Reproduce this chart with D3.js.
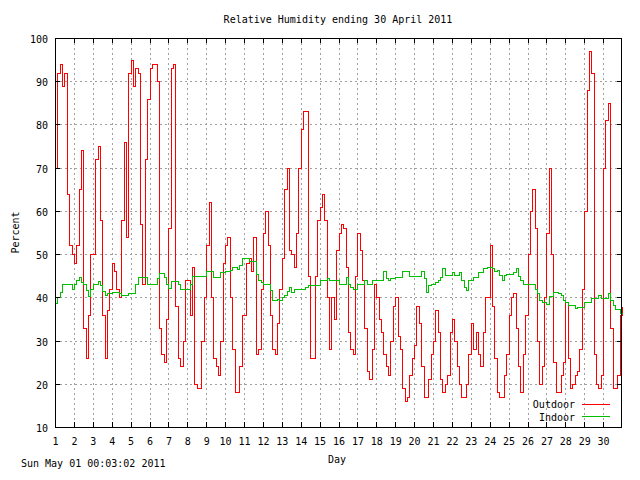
<!DOCTYPE html>
<html>
<head>
<meta charset="utf-8">
<script src="https://cdn.jsdelivr.net/npm/d3@7"></script>
<style>
body { margin: 0; background: #fff; }
svg text { font-family: "DejaVu Sans Mono", monospace; font-size: 10px; fill: #000; }
</style>
</head>
<body>
<svg id="chart" width="640" height="480"></svg>
<script>
const title = "Relative Humidity ending 30 April 2011";
const stamp = "Sun May 01 00:03:02 2011";
const dayLabels = d3.range(1, 31);
const yTicks = d3.range(10, 101, 10);
const samplesPerDay = 8; // readings every 3 hours

// outdoor humidity, one row per day (3-hourly), last value = 1 May 00:00
const outdoor = [
    70, 92, 94, 89, 92, 64, 52, 50,
    48, 52, 65, 74, 33, 26, 36, 50,
    50, 72, 75, 58, 36, 26, 37, 42,
    48, 46, 42, 40, 58, 76, 54, 92,
    95, 89, 93, 92, 57, 43, 72, 86,
    93, 94, 94, 90, 33, 27, 25, 35,
    56, 93, 94, 38, 26, 24, 30, 44,
    44, 36, 47, 20, 19, 19, 30, 40,
    52, 62, 40, 26, 24, 22, 30, 48,
    52, 54, 40, 28, 18, 18, 24, 36,
    36, 48, 49, 46, 54, 27, 28, 42,
    55, 60, 52, 36, 28, 27, 34, 42,
    49, 65, 70, 51, 50, 47, 55, 70,
    79, 83, 83, 45, 26, 26, 45, 58,
    61, 64, 58, 40, 28, 40, 35, 51,
    55, 57, 56, 47, 32, 28, 27, 45,
    55, 51, 44, 33, 23, 21, 28, 43,
    40, 35, 32, 27, 24, 22, 30, 38,
    40, 31, 28, 19, 16, 17, 22, 26,
    29, 38, 34, 24, 17, 17, 21, 27,
    30, 37, 32, 21, 18, 20, 22, 32,
    35, 30, 24, 20, 17, 17, 20, 27,
    34, 28, 32, 27, 24, 32, 40, 40,
    52, 38, 26, 18, 17, 17, 22, 27,
    36, 40, 41, 33, 24, 18, 27, 36,
    50, 60, 65, 56, 30, 20, 24, 40,
    55, 70, 50, 25, 18, 18, 22, 25,
    39, 26, 19, 20, 22, 23, 28, 42,
    60, 88, 97, 92, 27, 20, 19, 22,
    70, 81, 85, 33, 19, 19, 22, 36,
    38
];

const indoor = [
    38.8, 40, 41.3, 43, 43, 43, 43, 42,
    43, 44, 44.8, 43.5, 43, 41.7, 40.2, 42,
    43.2, 43.2, 43.8, 42.8, 41.5, 40.5, 40.9, 40.9,
    41.3, 41.3, 41.3, 41, 40.5, 40.5, 40.5, 41,
    41, 41, 43, 44.7, 44.7, 44.7, 44.7, 43,
    43, 43, 43, 44.5, 45.6, 45.6, 44.7, 43,
    42.2, 43.7, 43.7, 43.7, 43, 42, 42, 42,
    42, 43, 45, 45, 45, 45, 45, 45,
    46, 46, 46, 44.8, 44.8, 44.8, 45.9, 45.9,
    46, 46, 46.3, 47.1, 47.1, 46.5, 47.5, 49,
    49, 49, 48.3, 48.3, 48.3, 45.5, 44, 43.5,
    43.1, 43.1, 43.1, 41.7, 39.4, 39.4, 39.6, 39.4,
    40, 40.5, 41.5, 42.5, 41.3, 41.9, 41.9, 41.9,
    41.9, 41.9, 42.5, 42.9, 42.9, 42.9, 42.8, 42.9,
    44, 44, 44, 44.5, 44, 44, 44, 44,
    43.1, 43.1, 43.1, 44.8, 43.1, 42.3, 41.9, 41.9,
    43.1, 43.1, 43.1, 44, 43.1, 43.1, 44, 44,
    44, 44, 44, 46, 44.5, 44, 44.5, 44.5,
    44.8, 44.8, 44.8, 46.1, 46.1, 46.1, 45, 45,
    45, 45, 45, 46, 44.4, 41.3, 42.9, 43.2,
    43.2, 43.6, 44, 44.8, 46.7, 45.2, 45.2, 45.2,
    45.9, 45.2, 45.2, 45.9, 44, 42.5, 41.7, 44,
    44, 44.8, 44.8, 45.9, 45.9, 46.7, 46.7, 47.1,
    47.1, 46.9, 46.2, 46.3, 45.2, 44, 45.2, 45.5,
    45.5, 45.5, 45.9, 46.9, 45, 44, 43.1, 43.1,
    43.1, 43.1, 43.1, 42, 40.9, 39.4, 39, 39,
    38.5, 40.2, 40.2, 41.3, 41.3, 40.9, 40.5, 39.4,
    39, 38.2, 38.2, 38.2, 37.5, 37.8, 37.8, 37.8,
    39, 39, 39, 39.8, 39.8, 39.8, 40.5, 39.8,
    39.8, 39.8, 40.9, 39.4, 38.2, 37.2, 37.2, 36.3,
    36.3
];

const seriesNames = ["Outdoor", "Indoor"];
const seriesColors = ["#ff0000", "#00c000"];

const plot = { left: 55, right: 622, top: 38, bottom: 427 };
const svg = d3.select("#chart");

const x = d3.scaleLinear().domain([0, 30]).range([plot.left, plot.right]);
const y = d3.scaleLinear().domain([10, 100]).range([plot.bottom, plot.top]);
const times = d3.range(outdoor.length).map(i => i / samplesPerDay);
const dayPos = dayLabels.map(d => d - 1);
const px = v => Math.round(v) + 0.5; // snap to pixel centres like a bitmap plot

// grid
const grid = svg.append("g")
    .attr("stroke", "#a0a0a0")
    .attr("stroke-dasharray", "2,3")
    .attr("shape-rendering", "crispEdges");
grid.append("g").selectAll("line")
    .data(dayPos.slice(1))
    .join("line")
    .attr("x1", d => px(x(d))).attr("x2", d => px(x(d)))
    .attr("y1", plot.top).attr("y2", plot.bottom);
grid.append("g").selectAll("line")
    .data(yTicks.slice(1, -1))
    .join("line")
    .attr("x1", plot.left).attr("x2", plot.right)
    .attr("y1", d => px(y(d))).attr("y2", d => px(y(d)));

// data lines
const line = d3.line()
    .x((d, i) => px(x(times[i])))
    .y(d => px(y(d)))
    .curve(d3.curveStepAfter);
[outdoor, indoor].forEach((s, k) => {
    svg.append("path")
        .datum(s)
        .attr("d", line)
        .attr("fill", "none")
        .attr("stroke", seriesColors[k])
        .attr("stroke-width", 1)
        .attr("shape-rendering", "crispEdges");
});

// axes (ticks inward, mirrored)
const noDomain = g => g.select(".domain").remove();
svg.append("g")
    .attr("transform", `translate(0,${plot.bottom})`)
    .call(d3.axisBottom(x).tickValues(dayPos).tickFormat(d => d + 1).tickSize(-5).tickPadding(11))
    .call(noDomain);
svg.append("g")
    .attr("transform", `translate(0,${plot.top})`)
    .call(d3.axisTop(x).tickValues(dayPos).tickFormat("").tickSize(-5))
    .call(noDomain);
svg.append("g")
    .attr("transform", `translate(${plot.left},0)`)
    .call(d3.axisLeft(y).tickValues(yTicks).tickSize(-5).tickPadding(7))
    .call(noDomain)
    .selectAll("text").attr("dy", "0.45em");
svg.append("g")
    .attr("transform", `translate(${plot.right},0)`)
    .call(d3.axisRight(y).tickValues(yTicks).tickFormat("").tickSize(-5))
    .call(noDomain);
svg.selectAll(".tick line").attr("shape-rendering", "crispEdges");

// frame
svg.append("rect")
    .attr("x", plot.left + 0.5).attr("y", plot.top + 0.5)
    .attr("width", plot.right - plot.left - 1).attr("height", plot.bottom - plot.top)
    .attr("fill", "none").attr("stroke", "#000")
    .attr("shape-rendering", "crispEdges");

// legend
seriesNames.forEach((name, k) => {
    const ly = 404 + k * 12.5;
    svg.append("text")
        .attr("x", 575).attr("y", ly + 4)
        .attr("text-anchor", "end")
        .text(name);
    svg.append("line")
        .attr("x1", 582).attr("x2", 610)
        .attr("y1", ly).attr("y2", ly)
        .attr("stroke", seriesColors[k])
        .attr("shape-rendering", "crispEdges");
});

// titles
svg.append("text").attr("x", 338).attr("y", 23).attr("text-anchor", "middle").text(title);
svg.append("text").attr("x", 337).attr("y", 463).attr("text-anchor", "middle").text("Day");
svg.append("text")
    .attr("transform", `translate(19,${(plot.top + plot.bottom) / 2}) rotate(-90)`)
    .attr("text-anchor", "middle")
    .text("Percent");
svg.append("text").attr("x", 21).attr("y", 467).text(stamp);
</script>
</body>
</html>
